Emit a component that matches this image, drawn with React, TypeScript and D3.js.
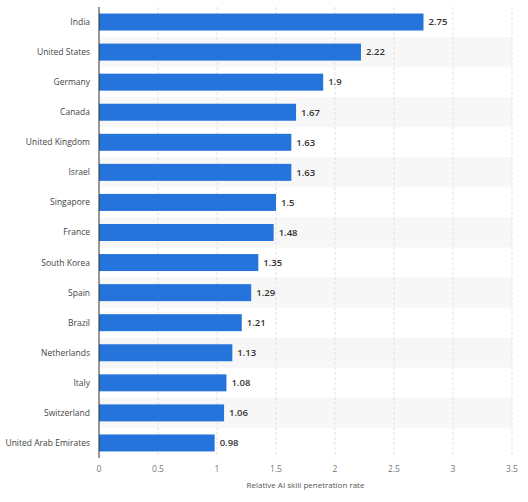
import React from "react";
import * as d3 from "d3";

const countries = [
  "India",
  "United States",
  "Germany",
  "Canada",
  "United Kingdom",
  "Israel",
  "Singapore",
  "France",
  "South Korea",
  "Spain",
  "Brazil",
  "Netherlands",
  "Italy",
  "Switzerland",
  "United Arab Emirates",
];
const rates = [2.75, 2.22, 1.9, 1.67, 1.63, 1.63, 1.5, 1.48, 1.35, 1.29, 1.21, 1.13, 1.08, 1.06, 0.98];
const xTicks = [0, 0.5, 1, 1.5, 2, 2.5, 3, 3.5];
const xTitle = "Relative AI skill penetration rate";

const W = 528;
const H = 502;
const M = { left: 99, right: 16, top: 7, bottom: 44 };
const FONT = "'Open Sans', 'DejaVu Sans', sans-serif";

export default function App() {
  const x = d3.scaleLinear().domain([0, 3.5]).range([M.left, W - M.right]);
  const y = d3
    .scaleBand<string>()
    .domain(countries)
    .range([M.top, H - M.bottom - 0])
    .paddingInner(0)
    .paddingOuter(0);
  const bh = 17;
  const bottom = H - M.bottom;
  return (
    <svg
      width={W}
      height={H}
      style={{ position: "absolute", left: 0, top: 0 }}
      fontFamily={FONT}
    >
      <rect width={W} height={H} fill="#fff" />
      {countries.map((c, i) =>
        i % 2 === 1 ? (
          <rect
            key={"s" + c}
            x={M.left}
            y={y(c)}
            width={x(3.5) - M.left}
            height={y.bandwidth()}
            fill="#f7f7f7"
          />
        ) : null
      )}
      {xTicks.slice(1).map((t) => (
        <line
          key={"g" + t}
          x1={x(t)}
          x2={x(t)}
          y1={M.top}
          y2={bottom}
          stroke="#e2e2e2"
          strokeWidth={1}
          strokeDasharray="3,2"
        />
      ))}
      {countries.map((c, i) => {
        const cy = (y(c) as number) + y.bandwidth() / 2;
        return (
          <g key={c}>
            <rect
              x={x(0)}
              y={cy - bh / 2}
              width={x(rates[i]) - x(0)}
              height={bh}
              fill="#2474dc"
            />
            <text
              x={x(rates[i]) + 5}
              y={cy}
              dy="0.35em"
              fontSize={9.5}
              fontWeight={600}
              fill="#333"
            >
              {rates[i]}
            </text>
            <text
              x={M.left - 9}
              y={cy}
              dy="0.35em"
              textAnchor="end"
              fontSize={8.5}
              fill="#444"
            >
              {c}
            </text>
          </g>
        );
      })}
      <line x1={M.left} x2={M.left} y1={M.top} y2={bottom} stroke="#333" strokeWidth={1} />
      {xTicks.map((t) => (
        <text
          key={"t" + t}
          x={x(t)}
          y={bottom + 14}
          textAnchor="middle"
          fontSize={8.5}
          fill="#777"
        >
          {t}
        </text>
      ))}
      <text
        x={(x(0) + x(3.5)) / 2}
        y={bottom + 30}
        textAnchor="middle"
        fontSize={8}
        fill="#555"
      >
        {xTitle}
      </text>
    </svg>
  );
}
